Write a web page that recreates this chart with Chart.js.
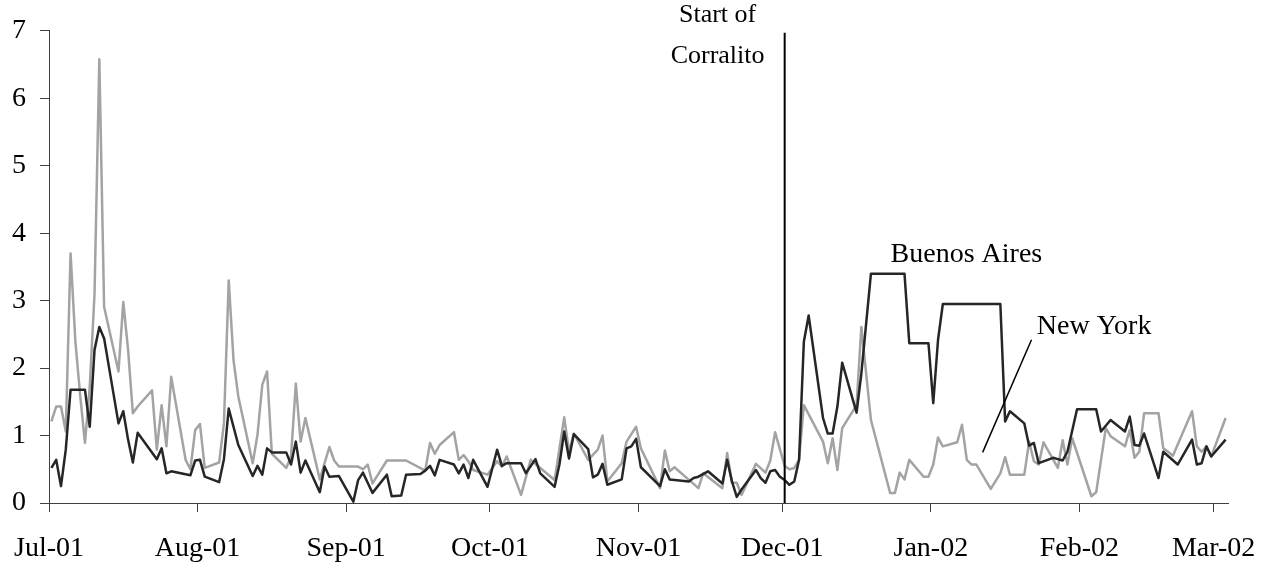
<!DOCTYPE html>
<html>
<head>
<meta charset="utf-8">
<script src="https://cdn.jsdelivr.net/npm/chart.js@4/dist/chart.umd.min.js"></script>
<style>
	body { margin: 0; background: #fff; }
	canvas { display: block; }
</style>
</head>
<body>
<canvas id="myChart" width="1273" height="565"></canvas>
<script>
// day numbers counted from 1 Jul 2001 (points sit at midday of their day)
var monthDays = [0, 31, 62, 92, 123, 153, 184, 215, 243];
var monthLabels = ["Jul-01", "Aug-01", "Sep-01", "Oct-01", "Nov-01", "Dec-01", "Jan-02", "Feb-02", "Mar-02"];
var yTicks = [0, 1, 2, 3, 4, 5, 6, 7];

var nyDays = [0, 1, 2, 3, 4, 5, 6, 7, 8, 9, 10, 11, 14, 15, 16, 17, 18, 21, 22, 23, 24, 25, 28, 29, 30, 31, 32, 35, 36, 37, 38, 39,
	42, 43, 44, 45, 46, 49, 50, 51, 52, 53, 56, 58, 59, 60, 64, 65, 66, 67, 70, 74, 78, 79, 80, 81, 84, 85, 86, 87, 88, 91,
	93, 94, 95, 98, 100, 102, 105, 107, 108, 109, 112, 114, 115, 116, 119, 120, 122, 123, 127, 128, 129, 130, 135, 136, 140,
	141, 142, 143, 144, 147, 149, 150, 151, 152, 153, 154, 155, 156, 157, 161, 162, 163, 164, 165, 168, 169, 171, 175, 176,
	177, 178, 179, 182, 183, 184, 185, 186, 189, 190, 191, 192, 193, 196, 198, 199, 200, 203, 204, 205, 206, 207, 210, 211,
	212, 213, 217, 218, 220, 221, 224, 225, 226, 227, 228, 231, 232, 233, 234, 238, 239, 240, 241, 242, 245];
var nyVals = [1.21, 1.43, 1.43, 1.06, 3.70, 2.40, 1.60, 0.89, 1.72, 3.10, 6.58, 2.91, 1.95, 2.98, 2.27, 1.33, 1.43, 1.67, 0.79, 1.45, 0.84, 1.87, 0.64, 0.50, 1.08, 1.17, 0.52, 0.60, 1.18, 3.30, 2.12, 1.58,
	0.59, 1.01, 1.75, 1.95, 0.73, 0.52, 0.69, 1.77, 0.91, 1.26, 0.35, 0.83, 0.63, 0.54, 0.54, 0.50, 0.57, 0.29, 0.63, 0.63, 0.48, 0.89, 0.73, 0.86, 1.05, 0.64, 0.71, 0.62, 0.49, 0.42,
	0.62, 0.54, 0.69, 0.12, 0.64, 0.52, 0.34, 1.27, 0.76, 1.03, 0.64, 0.79, 1.00, 0.32, 0.59, 0.91, 1.13, 0.81, 0.22, 0.78, 0.47, 0.53, 0.22, 0.44, 0.22,
	0.74, 0.30, 0.30, 0.12, 0.58, 0.45, 0.63, 1.05, 0.80, 0.55, 0.50, 0.52, 0.64, 1.45, 0.91, 0.59, 0.96, 0.49, 1.11, 1.45, 2.61, 1.23, 0.15, 0.15,
	0.45, 0.35, 0.64, 0.39, 0.39, 0.57, 0.97, 0.84, 0.90, 1.16, 0.64, 0.57, 0.57, 0.21, 0.44, 0.68, 0.42, 0.42, 0.91, 0.62, 0.57, 0.90, 0.52, 0.93,
	0.57, 0.96, 0.10, 0.16, 1.11, 0.99, 0.84, 1.08, 0.67, 0.76, 1.33, 1.33, 0.81, 0.76, 0.70, 1.36, 0.84, 0.76, 0.84, 0.69, 1.26];

var baDays = [0, 1, 2, 3, 4, 7, 8, 9, 10, 11, 14, 15, 16, 17, 18, 22, 23, 24, 25, 29, 30, 31, 32, 35, 36, 37, 39, 42, 43, 44, 45, 46,
	49, 50, 51, 52, 53, 56, 57, 58, 60, 63, 64, 65, 66, 67, 70, 71, 73, 74, 77, 78, 79, 80, 81, 84, 85, 86, 87, 88, 91, 93,
	94, 95, 98, 99, 101, 102, 105, 106, 107, 108, 109, 112, 113, 114, 115, 116, 119, 120, 121, 122, 123, 127, 128, 129, 133,
	134, 135, 137, 140, 141, 142, 143, 144, 147, 148, 149, 150, 151, 152, 153, 154, 155, 156, 157, 158, 161, 162, 163, 164,
	165, 168, 169, 171, 178, 179, 183, 184, 185, 186, 198, 199, 200, 203, 204, 205, 206, 209, 210, 211, 212, 214, 218, 219,
	221, 224, 225, 226, 227, 228, 231, 232, 235, 238, 239, 240, 241, 242, 245];
var baVals = [0.52, 0.64, 0.25, 0.79, 1.68, 1.68, 1.13, 2.27, 2.61, 2.44, 1.18, 1.36, 0.94, 0.60, 1.04, 0.65, 0.81, 0.44, 0.47, 0.41, 0.63, 0.64, 0.39, 0.31, 0.65, 1.40, 0.86, 0.40, 0.55, 0.42, 0.81, 0.75,
	0.75, 0.57, 0.91, 0.45, 0.63, 0.16, 0.54, 0.39, 0.40, 0.02, 0.34, 0.45, 0.30, 0.15, 0.42, 0.10, 0.11, 0.42, 0.43, 0.48, 0.55, 0.41, 0.64, 0.57, 0.44, 0.57, 0.37, 0.64, 0.24, 0.79,
	0.55, 0.59, 0.59, 0.44, 0.65, 0.44, 0.24, 0.57, 1.06, 0.66, 1.02, 0.80, 0.38, 0.42, 0.58, 0.27, 0.35, 0.81, 0.84, 0.95, 0.53, 0.25, 0.50, 0.35, 0.32,
	0.37, 0.39, 0.47, 0.29, 0.64, 0.32, 0.09, 0.20, 0.49, 0.37, 0.30, 0.47, 0.49, 0.39, 0.34, 0.27, 0.32, 0.64, 2.39, 2.78, 1.26, 1.03, 1.03, 1.43,
	2.08, 1.34, 1.92, 3.40, 3.40, 2.37, 2.37, 1.48, 2.42, 2.95, 2.95, 1.21, 1.36, 1.18, 0.85, 0.89, 0.59, 0.67, 0.65, 0.63, 0.76, 1.39, 1.39, 1.06,
	1.23, 1.06, 1.28, 0.86, 0.85, 1.03, 0.37, 0.76, 0.57, 0.94, 0.57, 0.59, 0.84, 0.69, 0.94];

var corralitoDay = 153;

function toPoints(days, vals) {
	var pts = [];
	for (let i = 0; i < days.length; i++) {
		pts.push({ x: days[i] + 0.5, y: vals[i] });
	}
	return pts;
}

const serif = "'Liberation Serif', 'Times New Roman', serif";

// vertical marker, labels and pointer line, placed in data units
const notes = {
	id: "notes",
	afterDraw: function(chart) {
		var ctx = chart.ctx;
		var xs = chart.scales.x;
		var ys = chart.scales.y;
		var lineX = xs.getPixelForValue(corralitoDay + 0.5);
		ctx.save();

		ctx.strokeStyle = "#000";
		ctx.lineWidth = 2;
		ctx.beginPath();
		ctx.moveTo(lineX, ys.getPixelForValue(6.97));
		ctx.lineTo(lineX, ys.getPixelForValue(0));
		ctx.stroke();

		ctx.fillStyle = "#000";
		ctx.textBaseline = "alphabetic";
		ctx.font = "26px " + serif;
		ctx.textAlign = "center";
		ctx.fillText("Start of", xs.getPixelForValue(139.5), ys.getPixelForValue(7.13));
		ctx.fillText("Corralito", xs.getPixelForValue(139.5), ys.getPixelForValue(6.52));

		ctx.font = "28px " + serif;
		ctx.textAlign = "left";
		ctx.fillText("Buenos Aires", xs.getPixelForValue(175.6), ys.getPixelForValue(3.57));
		ctx.fillText("New York", xs.getPixelForValue(206.1), ys.getPixelForValue(2.51));

		ctx.lineWidth = 1.5;
		ctx.beginPath();
		ctx.moveTo(xs.getPixelForValue(205.0), ys.getPixelForValue(2.42));
		ctx.lineTo(xs.getPixelForValue(194.8), ys.getPixelForValue(0.75));
		ctx.stroke();

		ctx.restore();
	}
};

function graph() {
	var ctx = document.getElementById("myChart").getContext("2d");
	var chart = new Chart(ctx, {
		type: "line",
		data: {
			datasets: [{
				label: "Buenos Aires",
				data: toPoints(baDays, baVals),
				borderColor: "#262626",
				borderWidth: 2.5,
				order: 1
			}, {
				label: "New York",
				data: toPoints(nyDays, nyVals),
				borderColor: "#a3a3a3",
				borderWidth: 2.5,
				order: 2
			}]
		},
		options: {
			responsive: false,
			animation: false,
			devicePixelRatio: 1,
			layout: { padding: { top: 30, right: 45, left: 0, bottom: 0 } },
			elements: {
				point: { radius: 0 },
				line: { tension: 0, borderJoinStyle: "round", fill: false }
			},
			plugins: {
				legend: { display: false },
				tooltip: { enabled: false }
			},
			scales: {
				x: {
					type: "linear",
					min: 0,
					max: 246,
					afterBuildTicks: function(scale) {
						scale.ticks = monthDays.map(function(d) { return { value: d }; });
					},
					afterFit: function(scale) {
						scale.height = 62;
						scale.paddingLeft = 0;
						scale.paddingRight = 0;
					},
					ticks: {
						autoSkip: false,
						maxRotation: 0,
						padding: 20,
						color: "#000",
						font: { family: serif, size: 28 },
						callback: function(v) { return monthLabels[monthDays.indexOf(v)]; }
					},
					grid: { drawOnChartArea: false, tickLength: 9, tickColor: "#404040" },
					border: { color: "#404040", width: 1 }
				},
				y: {
					min: 0,
					max: 7,
					afterBuildTicks: function(scale) {
						scale.ticks = yTicks.map(function(v) { return { value: v }; });
					},
					afterFit: function(scale) { scale.width = 49; },
					ticks: {
						padding: 14,
						color: "#000",
						font: { family: serif, size: 28 }
					},
					grid: { drawOnChartArea: false, tickLength: 9, tickColor: "#404040" },
					border: { color: "#404040", width: 1 }
				}
			}
		},
		plugins: [notes]
	});
}

document.addEventListener("DOMContentLoaded", function(event) {
	graph();
});
</script>
</body>
</html>
